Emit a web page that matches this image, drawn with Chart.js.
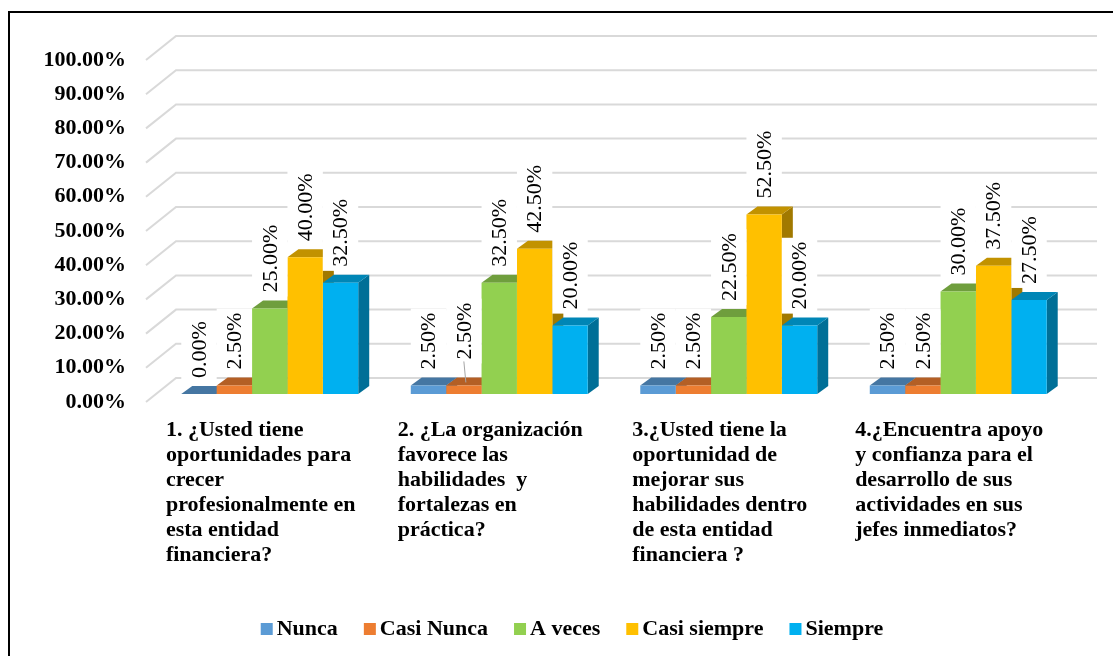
<!DOCTYPE html>
<html lang="es">
<head>
<meta charset="utf-8">
<title>Desarrollo profesional</title>
<script src="https://cdn.jsdelivr.net/npm/chart.js@4.4.1/dist/chart.umd.min.js"></script>
<style>
  html, body { margin: 0; padding: 0; background: #fff; }
  canvas { display: block; }
</style>
</head>
<body>
<canvas id="grafico" width="1113" height="656"></canvas>
<script>
// preguntas (cada una ya partida en líneas)
const preguntas = [
  ['1. ¿Usted tiene', 'oportunidades para', 'crecer', 'profesionalmente en', 'esta entidad', 'financiera?'],
  ['2. ¿La organización', 'favorece las', 'habilidades  y', 'fortalezas en', 'práctica?'],
  ['3.¿Usted tiene la', 'oportunidad de', 'mejorar sus', 'habilidades dentro', 'de esta entidad', 'financiera ?'],
  ['4.¿Encuentra apoyo', 'y confianza para el', 'desarrollo de sus', 'actividades en sus', 'jefes inmediatos?']
]

const series = ['Nunca', 'Casi Nunca', 'A veces', 'Casi siempre', 'Siempre']
const nunca = [0, 2.5, 2.5, 2.5]
const casiNunca = [2.5, 2.5, 2.5, 2.5]
const aVeces = [25, 32.5, 22.5, 30]
const casiSiempre = [40, 42.5, 52.5, 37.5]
const siempre = [32.5, 20, 20, 27.5]

const colores = ['#5B9BD5', '#ED7D31', '#92D050', '#FFC000', '#00B0F0']

const FUENTE = '"Liberation Serif", "Times New Roman", serif'
const PROF_X = 11   // profundidad de las barras
const PROF_Y = 8

function oscurece(hex, f) {
    let n = parseInt(hex.slice(1), 16)
    let r = Math.round((n >> 16) * f)
    let g = Math.round(((n >> 8) & 255) * f)
    let b = Math.round((n & 255) * f)
    return 'rgb(' + r + ',' + g + ',' + b + ')'
}

function formato(v) {
    return v.toFixed(2) + '%'
}

// marco y fondo
const marco = {
    id: 'marco',
    beforeDraw(chart) {
        const ctx = chart.ctx
        ctx.save()
        ctx.fillStyle = '#fff'
        ctx.fillRect(0, 0, chart.width, chart.height)
        ctx.strokeStyle = '#000'
        ctx.lineWidth = 2
        ctx.beginPath()
        ctx.moveTo(9, chart.height)
        ctx.lineTo(9, 12)
        ctx.lineTo(chart.width, 12)
        ctx.stroke()
        ctx.restore()
    }
}

// pared de fondo, piso y caras laterales / superiores de las barras
const caras3d = {
    id: 'caras3d',
    beforeDatasetsDraw(chart) {
        const {ctx, chartArea, scales: {y}} = chart
        ctx.save()
        ctx.strokeStyle = '#D9D9D9'
        ctx.lineWidth = 2
        y.ticks.forEach(t => {
            let py = y.getPixelForValue(t.value)
            ctx.beginPath()
            ctx.moveTo(chartArea.left - 9, py + 8)
            ctx.lineTo(chartArea.left + 21, py - 16)
            ctx.lineTo(chartArea.right + 24, py - 16)
            ctx.stroke()
        })

        const barras = []
        chart.data.datasets.forEach((ds, i) => {
            chart.getDatasetMeta(i).data.forEach(bar => barras.push({bar, color: ds.backgroundColor}))
        })

        // primero los laterales
        barras.forEach(({bar, color}) => {
            let der = bar.x + bar.width / 2
            ctx.fillStyle = oscurece(color, 0.63)
            ctx.beginPath()
            ctx.moveTo(der, bar.y)
            ctx.lineTo(der + PROF_X, bar.y - PROF_Y)
            ctx.lineTo(der + PROF_X, bar.base - PROF_Y)
            ctx.lineTo(der, bar.base)
            ctx.closePath()
            ctx.fill()
        })
        // luego las tapas
        barras.forEach(({bar, color}) => {
            let izq = bar.x - bar.width / 2
            let der = bar.x + bar.width / 2
            ctx.fillStyle = oscurece(color, 0.76)
            ctx.beginPath()
            ctx.moveTo(izq, bar.y)
            ctx.lineTo(izq + PROF_X, bar.y - PROF_Y)
            ctx.lineTo(der + PROF_X, bar.y - PROF_Y)
            ctx.lineTo(der, bar.y)
            ctx.closePath()
            ctx.fill()
        })
        ctx.restore()
    }
}

// etiquetas de valor, verticales con fondo blanco
const etiquetas = {
    id: 'etiquetas',
    afterDatasetsDraw(chart, args, opts) {
        const ctx = chart.ctx
        ctx.save()
        ctx.font = '22px ' + FUENTE
        chart.data.datasets.forEach((ds, i) => {
            chart.getDatasetMeta(i).data.forEach((bar, j) => {
                let texto = formato(ds.data[j])
                let largo = ctx.measureText(texto).width
                let mover = (opts.desplazar.find(d => d.serie === i && d.punto === j) || {dy: 0}).dy
                let abajo = bar.y - 16 + mover
                ctx.fillStyle = '#fff'
                ctx.fillRect(bar.x - bar.width / 2, abajo - largo - 4, bar.width, largo + 8)
                if (mover) {
                    ctx.strokeStyle = '#A6A6A6'
                    ctx.lineWidth = 1
                    ctx.beginPath()
                    ctx.moveTo(bar.x, abajo + 2)
                    ctx.lineTo(bar.x + 2, bar.y - 3)
                    ctx.stroke()
                }
                ctx.save()
                ctx.translate(bar.x + 1, abajo)
                ctx.rotate(-Math.PI / 2)
                ctx.fillStyle = '#000'
                ctx.textAlign = 'left'
                ctx.textBaseline = 'middle'
                ctx.fillText(texto, 0, 0)
                ctx.restore()
            })
        })
        ctx.restore()
    }
}

// textos de las preguntas bajo cada grupo
const preguntasEje = {
    id: 'preguntasEje',
    afterDraw(chart) {
        const {ctx, chartArea, scales: {x}} = chart
        ctx.save()
        ctx.font = 'bold 22px ' + FUENTE
        ctx.fillStyle = '#000'
        ctx.textAlign = 'left'
        ctx.textBaseline = 'middle'
        preguntas.forEach((lineas, i) => {
            let ancho = Math.max(...lineas.map(l => ctx.measureText(l).width))
            let izq = x.getPixelForValue(i) - ancho / 2 - 9
            lineas.forEach((l, k) => ctx.fillText(l, izq, chartArea.bottom + 36 + k * 25))
        })
        ctx.restore()
    }
}

// leyenda inferior
const leyenda = {
    id: 'leyenda',
    afterDraw(chart) {
        const ctx = chart.ctx
        ctx.save()
        ctx.font = 'bold 22px ' + FUENTE
        ctx.textBaseline = 'middle'
        let items = chart.data.datasets.map(ds => ({texto: ds.label, color: ds.backgroundColor, ancho: ctx.measureText(ds.label).width}))
        let total = items.reduce((s, it) => s + 12 + 4 + it.ancho, 0) + 26 * (items.length - 1)
        let px = 572 - total / 2
        let py = 629
        items.forEach(it => {
            ctx.fillStyle = it.color
            ctx.fillRect(px, py - 6, 12, 12)
            ctx.fillStyle = '#000'
            ctx.fillText(it.texto, px + 16, py)
            px += 16 + it.ancho + 26
        })
        ctx.restore()
    }
}

const valores = [nunca, casiNunca, aVeces, casiSiempre, siempre]

const graficoEncuesta = new Chart(document.getElementById('grafico'), {
    type: 'bar',
    data: {
        labels: preguntas.map(p => p.join(' ')),
        datasets: series.map((nombre, i) => ({
            label: nombre,
            data: valores[i],
            backgroundColor: colores[i],
            borderWidth: 0,
            barPercentage: 1,
            categoryPercentage: 0.771
        }))
    },
    options: {
        responsive: false,
        animation: false,
        devicePixelRatio: 1,
        layout: { padding: { top: 52, bottom: 262, left: 0, right: 40 } },
        plugins: {
            legend: { display: false },
            tooltip: { enabled: false },
            etiquetas: { desplazar: [{ serie: 1, punto: 1, dy: -10 }] }
        },
        scales: {
            x: { display: false },
            y: {
                min: 0,
                max: 100,
                afterFit: s => { s.width = 155 },
                grid: { display: false },
                border: { display: false },
                ticks: {
                    stepSize: 10,
                    padding: 21,
                    labelOffset: 8,
                    color: '#000',
                    font: { family: FUENTE, size: 22, weight: 'bold' },
                    callback: v => formato(v)
                }
            }
        }
    },
    plugins: [marco, caras3d, etiquetas, preguntasEje, leyenda]
})
</script>
</body>
</html>
